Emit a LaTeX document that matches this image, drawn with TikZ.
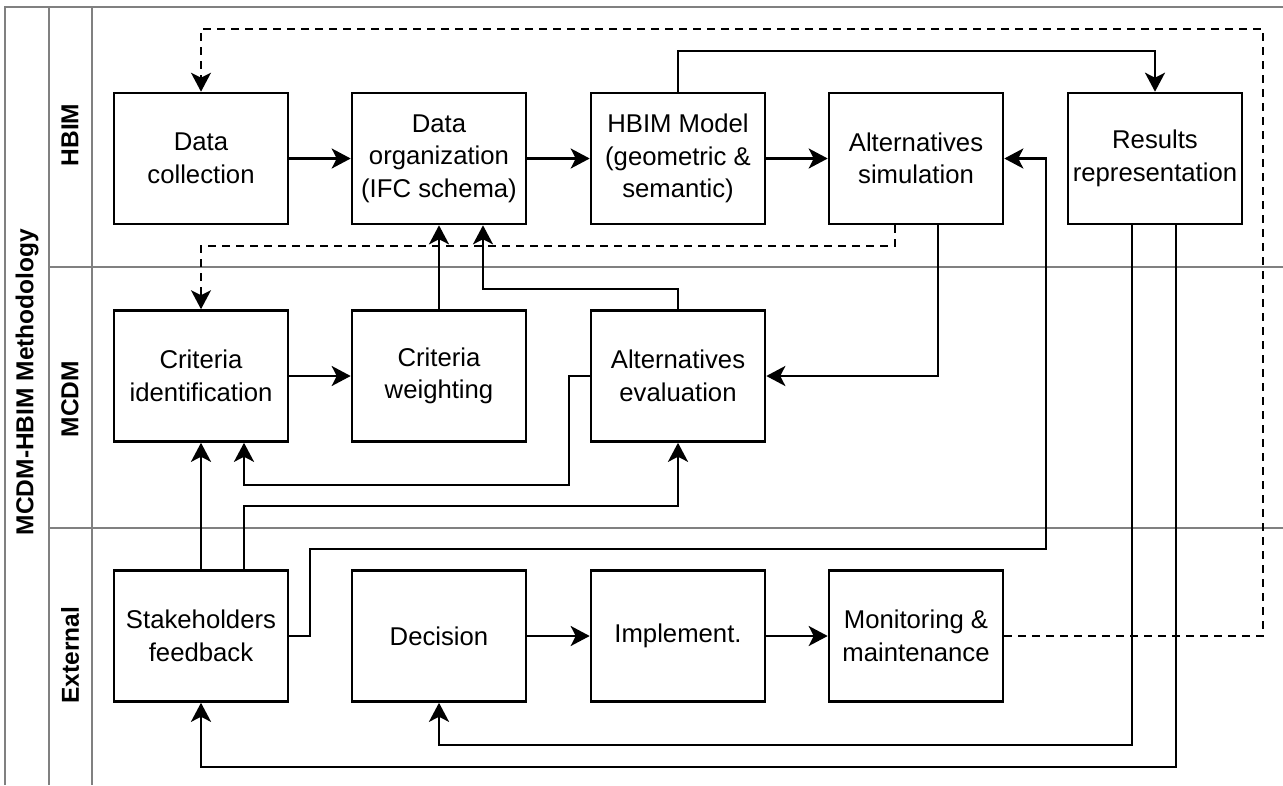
\documentclass[tikz,border=0pt]{standalone}
\usepackage{fontspec}
\setmainfont{Liberation Sans}
\usetikzlibrary{arrows.meta,calc}
\begin{document}
\begin{tikzpicture}[x=1pt,y=-1pt,
  lane/.style={draw=black!50,line width=2.4pt},
  box/.style={draw=black,line width=2.6pt,rectangle,minimum width=174pt,minimum height=131pt,
    inner sep=0pt,align=center,font=\fontsize{25.7}{32.5}\selectfont},
  lbl/.style={font=\fontsize{24.5}{29}\selectfont\bfseries,rotate=90,inner sep=0pt},
  arr/.style={draw=black,line width=2.5pt,-{Stealth[length=19pt,width=20pt,inset=5pt]}},
  dsh/.style={draw=black,line width=1.9pt,dash pattern=on 8pt off 6pt},
  dsharr/.style={dsh,-{Stealth[length=19pt,width=20pt,inset=5pt]}}]
\useasboundingbox (0,0) rectangle (1283,785);
% swimlanes
\draw[lane] (5,785) -- (5,7) -- (1283,7);
\draw[lane] (49,7) -- (49,785);
\draw[lane] (92,7) -- (92,785);
\draw[lane] (49,267) -- (1283,267);
\draw[lane] (49,528) -- (1283,528);
\node[lbl] (lmeth) at (27,382) {MCDM-HBIM Methodology};
\node[lbl] (lhbim) at (70,135) {HBIM};
\node[lbl] (lmcdm) at (70,399) {MCDM};
\node[lbl] (lext) at (70,655) {External};
% boxes
\node[box] (dc) at (201,158.5) {Data\\collection};
\node[box] (do) at (439,158.5) {Data\\organization\\(IFC schema)};
\node[box] (hm) at (678,158.5) {HBIM Model\\(geometric \&\\semantic)};
\node[box] (as) at (916,158.5) {Alternatives\\simulation};
\node[box] (rr) at (1155,158.5) {Results\\representation};
\node[box] (ci) at (201,376) {Criteria\\identification};
\node[box] (cw) at (439,376) {Criteria\\weighting};
\node[box] (ae) at (678,376) {Alternatives\\evaluation};
\node[box] (sf) at (201,636) {Stakeholders\\feedback};
\node[box] (de) at (439,636) {Decision};
\node[box] (im) at (678,636) {Implement.};
\node[box] (mm) at (916,636) {Monitoring \&\\maintenance};
% helper coordinates
\coordinate (ytop) at (0,51);
\coordinate (dr) at (1263,29);
\coordinate (yd2) at (0,246);
\coordinate (y289) at (0,289);
\coordinate (c9) at (569,485);
\coordinate (y506) at (0,506);
\coordinate (c12a) at (310,549);
\coordinate (c12b) at (1046,549);
\coordinate (y745) at (0,745);
\coordinate (y767) at (0,767);
% connectors
\draw[arr] (dc.east) -- (do.west);
\draw[arr] (do.east) -- (hm.west);
\draw[arr] (hm.east) -- (as.west);
\draw[arr] (hm.north) -- (hm.north |- ytop) -| (rr.north);
\draw[dsharr] (mm.east) -| (dr) -| (dc.north);
\draw[dsharr] ([xshift=-21pt]as.south) -- ([xshift=-21pt]as.south |- yd2) -| (ci.north);
\draw[arr] (ci.east) -- (cw.west);
\draw[arr] (cw.north) -- (do.south);
\draw[arr] (ae.north) -- (ae.north |- y289) -| ([xshift=44pt]do.south);
\draw[arr] ([xshift=22pt]as.south) |- (ae.east);
\draw[arr] (ae.west) -| (c9) -| ([xshift=43pt]ci.south);
\draw[arr] (sf.north) -- (ci.south);
\draw[arr] ([xshift=43pt]sf.north) -- ([xshift=43pt]sf.north |- y506) -| (ae.south);
\draw[arr] (sf.east) -| (c12a) -- (c12b) |- (as.east);
\draw[arr] ([xshift=-23pt]rr.south) -- ([xshift=-23pt]rr.south |- y745) -| (de.south);
\draw[arr] ([xshift=21pt]rr.south) -- ([xshift=21pt]rr.south |- y767) -| (sf.south);
\draw[arr] (de.east) -- (im.west);
\draw[arr] (im.east) -- (mm.west);
\end{tikzpicture}
\end{document}
